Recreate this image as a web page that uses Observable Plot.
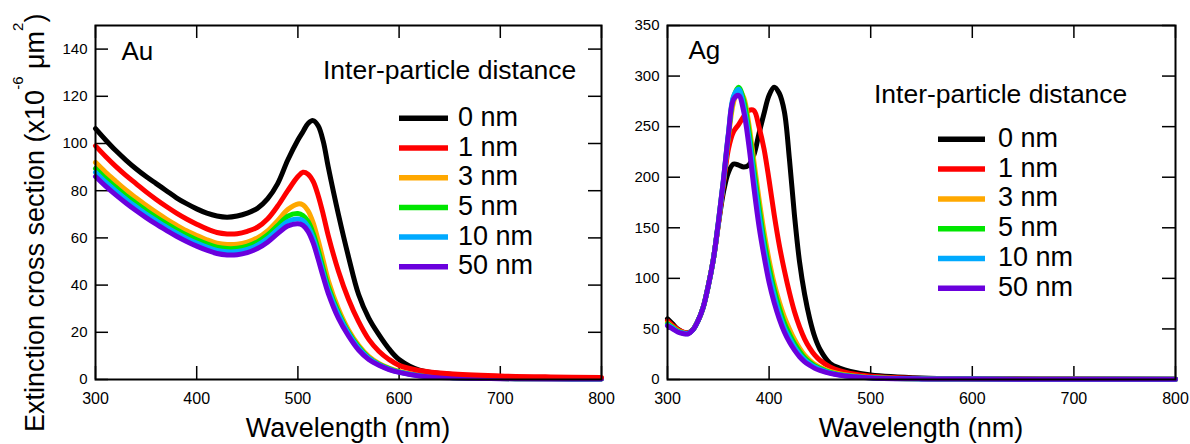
<!DOCTYPE html>
<html>
<head>
<meta charset="utf-8">
<script src="https://cdn.jsdelivr.net/npm/d3@7"></script>
<script src="https://cdn.jsdelivr.net/npm/@observablehq/plot@0.6"></script>
<style>
html, body { margin: 0; padding: 0; background: #fff; }
#wrap { position: relative; width: 1190px; height: 444px; overflow: hidden; background: #fff; }
#wrap svg { position: absolute; top: 0; }
</style>
</head>
<body>
<div id="wrap"></div>
<script>
// ---------- data ----------
const distances = ["0 nm", "1 nm", "3 nm", "5 nm", "10 nm", "50 nm"];
const colors = ["#000000", "#ff0000", "#ffa800", "#00e600", "#00aaff", "#6a00dd"];
const legendTitle = "Inter-particle distance";
const xLabel = "Wavelength (nm)";
const xTicks = [300, 400, 500, 600, 700, 800];
const auYTicks = [0, 20, 40, 60, 80, 100, 120, 140];
const agYTicks = [0, 50, 100, 150, 200, 250, 300, 350];

// Au panel
const auWavelength = [300,310,320,330,340,350,360,370,380,390,400,410,420,430,440,450,460,470,480,490,500,505,510,515,520,525,530,540,550,560,570,580,590,600,620,650,700,750,800];
const au0  = [106.3,101.5,97,93,89.3,86,83,80,77,74.5,72.3,70.5,69.3,68.8,69.3,70.5,72.5,76.5,83,93,101.5,105,108.5,109.7,107.5,101,90,70,52,36,26,19,13,8.5,4,2.2,1,0.7,0.5];
const au1  = [99,94.5,90.3,86.5,83,79.5,76.3,73.3,70.5,68,65.8,63.8,62.3,61.7,61.8,62.8,64.5,68,73.5,80,86,87.8,87,84,78,70,61,46,34,24.5,17,12,8.5,6,3.8,2.4,1.5,1.1,0.9];
const au3  = [92,87.8,84,80.3,77,73.8,70.8,68,65.4,63,61,59.2,57.8,57.2,57.3,58.2,60,63,67.3,72,74.4,74,71.5,66.5,59,50.5,42,30,21,14.5,9.8,6.8,4.8,3.4,1.8,0.9,0.4,0.3,0.2];
const au5  = [89.4,85.2,81.5,77.9,74.7,71.6,68.7,66,63.5,61.2,59.2,57.5,56.1,55.5,55.6,56.5,58.3,61.2,65.2,69.2,70.3,69.5,67,62,55,47,39.5,28.5,20,13.8,9.3,6.5,4.6,3.2,1.7,0.8,0.4,0.3,0.2];
const au10 = [87.8,83.6,79.9,76.4,73.2,70.1,67.3,64.6,62.1,59.8,57.8,56.1,54.7,54.1,54.2,55.1,56.9,59.7,63.5,67,68,67.3,64.8,60,53,45,38,27.5,19.5,13.3,9,6.3,4.4,3.1,1.6,0.8,0.4,0.3,0.2];
const au50 = [86,81.9,78.2,74.8,71.6,68.6,65.8,63.2,60.7,58.5,56.5,54.8,53.4,52.8,52.9,53.8,55.5,58.2,61.8,65,66,65.3,62.8,58,51,43.5,36.5,26,18.5,12.5,8.5,6,4.2,3,1.5,0.7,0.35,0.25,0.2];

// Ag panel
const agWavelength = [300,305,310,315,320,325,330,335,340,345,350,355,360,365,370,375,380,385,390,395,400,405,410,415,420,425,430,435,440,445,450,460,470,480,500,550,600,700,800];
const ag0  = [60,55,50,47,46,49.5,58,71,92,118,153,185,205,213,212,210,212,222,243,263,281,289,283,265,218,162,116,84,60,42,30,16,11,8,4.5,1.5,0.8,0.5,0.3];
const ag1  = [58,53.5,49.5,47,46,49.5,58,71,92,118,153,192,228,245,252,260,266,266,250,228,197,163,133,108,86,67,52,40,31,24,19,12.5,8.5,6,3.2,1,0.6,0.4,0.3];
const ag3  = [56,52,48.5,46.5,45.5,49,58,71,92,118,154,195,240,274,287,279,253,216,179,146,118,95,77,62,50,39.5,31,24,19,15,12,8,5.5,4,2,0.7,0.4,0.3,0.2];
const ag5  = [55,51.5,48,46,45.5,49,58,71,92,118,155,196,242,279,289,276,247,208,171,138,111,89,71,56,45,35.5,28,21.5,17,13.5,11,7,4.8,3.5,1.8,0.7,0.4,0.3,0.2];
const ag10 = [54,51,47.5,46,45.3,49,58,71,92,118,155,197,244,280,287,270,240,200,163,130,104,83,65,51,41,32,25,19.5,15.5,12.3,10,6.5,4.5,3.2,1.7,0.6,0.4,0.3,0.2];
const ag50 = [53,50,47,45.5,45,49,58,71,92,118,155,197,243,277,281,265,232,190,152,122,96,76,60,47,37,29,22.5,17.5,14,11,9,6,4.2,3,1.6,0.6,0.4,0.3,0.2];

// ---------- layout ----------
const FONT = "'Liberation Sans', Arial, Helvetica, sans-serif";
const H = 444, MT = 25, MB = 65;
const TICK = 13;

function makePanel(p) {
  const plotW = p.width - p.marginLeft - p.marginRight;
  const plotH = H - MT - MB;
  const marks = [
    Plot.axisX(xTicks, {tickSize: 0, tickPadding: 13, fontSize: 16, label: null}),
    Plot.axisY(p.yTicks, {tickSize: 0, tickPadding: 8, fontSize: 15, label: null}),
    Plot.tickX(xTicks, {x: d => d, insetTop: plotH - TICK, stroke: "black", strokeWidth: 1.5}),
    Plot.tickX(xTicks, {x: d => d, insetBottom: plotH - TICK, stroke: "black", strokeWidth: 1.5}),
    Plot.tickY(p.yTicks, {y: d => d, insetRight: plotW - TICK, stroke: "black", strokeWidth: 1.5}),
    Plot.tickY(p.yTicks, {y: d => d, insetLeft: plotW - TICK, stroke: "black", strokeWidth: 1.5})
  ];
  for (const i of p.order) {
    const rows = p.wl.map((w, j) => ({w, v: p.series[i][j]}));
    marks.push(Plot.line(rows, {x: "w", y: "v", stroke: colors[i], strokeWidth: 5, curve: "catmull-rom", strokeLinejoin: "round"}));
  }
  marks.push(Plot.frame({stroke: "black", strokeWidth: 2}));
  marks.push(Plot.text([p.name], {frameAnchor: "top-left", dx: p.nameDx, dy: p.nameDy, text: d => d, fontSize: 26, textAnchor: "start", lineAnchor: "bottom", fill: "black"}));

  const svg = Plot.plot({
    width: p.width, height: H,
    marginLeft: p.marginLeft, marginRight: p.marginRight, marginTop: MT, marginBottom: MB,
    x: {domain: [300, 800]},
    y: {domain: [0, p.yMax]},
    style: {fontFamily: FONT, color: "black", background: "transparent", overflow: "visible"},
    marks
  });
  svg.style.left = p.left + "px";
  const s = d3.select(svg);

  // x-axis title
  s.append("text").attr("x", p.marginLeft + plotW / 2).attr("y", 437)
    .attr("text-anchor", "middle").attr("font-size", 27).attr("font-family", FONT).attr("fill", "black")
    .text(xLabel);

  // legend
  const g = s.append("g").attr("font-family", FONT).attr("fill", "black").attr("text-anchor", "start");
  g.append("text").attr("x", p.legend.titleX).attr("y", p.legend.titleY).attr("font-size", 26.5).attr("text-anchor", "start").text(legendTitle);
  distances.forEach((d, i) => {
    const cy = p.legend.rowY + i * p.legend.rowStep;
    g.append("line").attr("x1", p.legend.lineX1).attr("x2", p.legend.lineX2).attr("y1", cy).attr("y2", cy)
      .attr("stroke", colors[i]).attr("stroke-width", 5.5);
    g.append("text").attr("x", p.legend.textX).attr("y", cy + 7.5).attr("font-size", 27).attr("text-anchor", "start").text(d);
  });
  return svg;
}

const wrap = document.getElementById("wrap");

const left = makePanel({
  name: "Au", nameDx: 26, nameDy: 34,
  left: 0, width: 620, marginLeft: 95, marginRight: 19,
  wl: auWavelength, series: [au0, au1, au3, au5, au10, au50],
  order: [0, 2, 3, 4, 5, 1],
  yTicks: auYTicks, yMax: 150,
  legend: {titleX: 323, titleY: 79, lineX1: 399, lineX2: 448, textX: 458, rowY: 118.3, rowStep: 29.7}
});
wrap.appendChild(left);

// y-axis title with superscripts
const yl = d3.select(left).append("text")
  .attr("transform", "translate(44,432) rotate(-90)")
  .attr("text-anchor", "start").attr("font-family", FONT).attr("font-size", 27).attr("fill", "black");
yl.append("tspan").text("Extinction cross section (x10");
yl.append("tspan").attr("font-size", 15).attr("dy", -21).text("-6");
yl.append("tspan").attr("dy", 21).text(" \u03bcm");
yl.append("tspan").attr("font-size", 15).attr("dy", -21).text("2");
yl.append("tspan").attr("dy", 21).text(")");

const right = makePanel({
  name: "Ag", nameDx: 21, nameDy: 33,
  left: 620, width: 570, marginLeft: 47, marginRight: 15,
  wl: agWavelength, series: [ag0, ag1, ag3, ag5, ag10, ag50],
  order: [0, 1, 2, 3, 4, 5],
  yTicks: agYTicks, yMax: 350,
  legend: {titleX: 254, titleY: 103, lineX1: 318, lineX2: 365, textX: 378, rowY: 139.3, rowStep: 29.8}
});
wrap.appendChild(right);
</script>
</body>
</html>
